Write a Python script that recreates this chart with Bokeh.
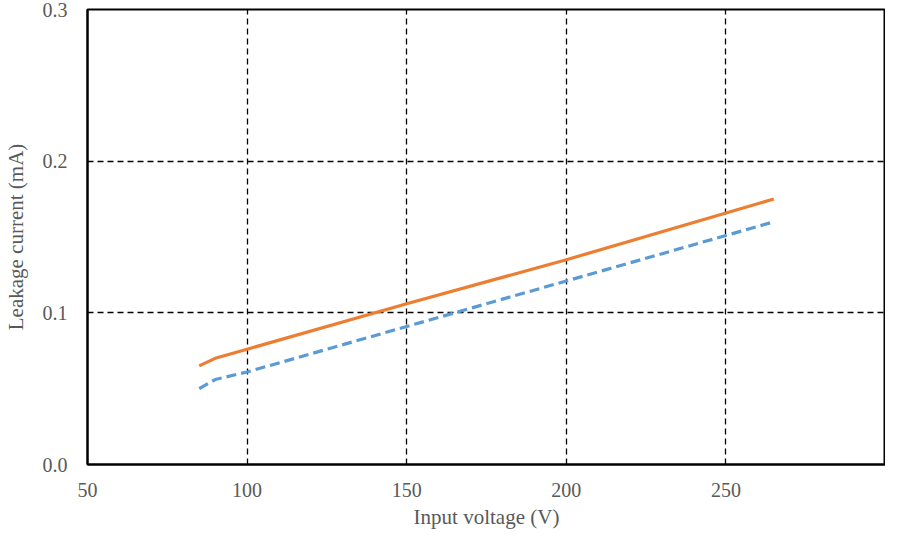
from bokeh.plotting import figure
from bokeh.models import Range1d, FixedTicker, ColumnDataSource, NumeralTickFormatter
from bokeh.embed import file_html
from bokeh.resources import INLINE

voltage = [85, 90, 100, 150, 200, 265]
orange_current = [0.065, 0.070, 0.076, 0.106, 0.135, 0.175]
blue_current = [0.050, 0.056, 0.061, 0.091, 0.121, 0.160]
x_ticks = [50, 100, 150, 200, 250]
y_ticks = [0.0, 0.1, 0.2, 0.3]

p = figure(width=885, height=531, output_backend="svg", toolbar_location=None,
           x_range=Range1d(50, 300), y_range=Range1d(0, 0.3),
           min_border_left=80, min_border_top=9, min_border_right=0, min_border_bottom=64)

src = ColumnDataSource(dict(x=voltage, o=orange_current, b=blue_current))
p.line("x", "b", source=src, line_color="#5B9BD5", line_width=3.2, line_dash="10 5")
p.line("x", "o", source=src, line_color="#ED7D31", line_width=3.2)

font = "Liberation Serif"
gray = "#595959"
for ax in (p.xaxis[0], p.yaxis[0]):
    ax.axis_line_color = "black"
    ax.axis_line_width = 2
    ax.major_tick_line_color = None
    ax.minor_tick_line_color = None
    ax.major_label_text_font = font
    ax.major_label_text_font_size = "20px"
    ax.major_label_text_color = gray
    ax.axis_label_text_font = font
    ax.axis_label_text_font_size = "21px"
    ax.axis_label_text_color = gray
    ax.axis_label_text_font_style = "normal"

p.xaxis[0].ticker = FixedTicker(ticks=x_ticks)
p.yaxis[0].ticker = FixedTicker(ticks=y_ticks)
p.xaxis[0].axis_label = "Input voltage (V)"
p.yaxis[0].axis_label = "Leakage current (mA)"
p.yaxis[0].formatter = NumeralTickFormatter(format="0.0")
p.xaxis[0].major_label_standoff = 12
p.yaxis[0].major_label_standoff = 14
p.xaxis[0].axis_label_standoff = 5
p.yaxis[0].axis_label_standoff = 12

p.xgrid.ticker = FixedTicker(ticks=[100, 150, 200, 250])
p.ygrid.ticker = FixedTicker(ticks=[0.1, 0.2])
for g in (p.xgrid[0], p.ygrid[0]):
    g.grid_line_color = "black"
    g.grid_line_dash = "6 4"
    g.grid_line_width = 1.3

p.outline_line_color = "black"
p.outline_line_width = 2
p.outline_line_alpha = 1

open("out.html", "w").write(file_html(p, INLINE))
